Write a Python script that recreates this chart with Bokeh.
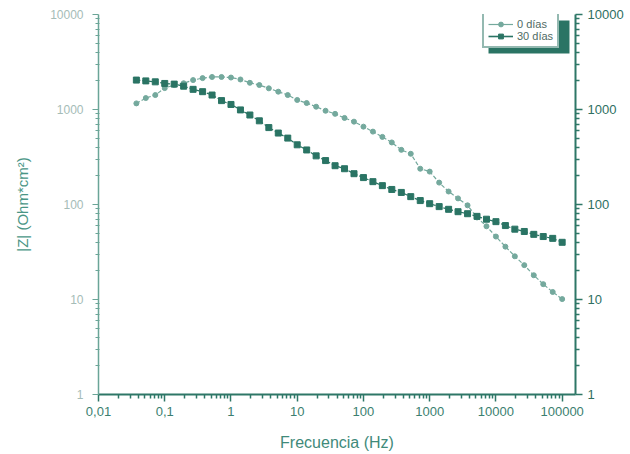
from bokeh.plotting import figure
from bokeh.models import Range1d, LogAxis, FixedTicker, Legend, LegendItem, BoxAnnotation, ColumnDataSource
from bokeh.embed import file_html
from bokeh.resources import INLINE

# ---- data ----
freq = [0.0373, 0.0518, 0.0720, 0.1, 0.139, 0.193, 0.268, 0.373, 0.518, 0.720,
        1.0, 1.39, 1.93, 2.68, 3.73, 5.18, 7.20, 10.0, 13.9, 19.3,
        26.8, 37.3, 51.8, 72.0, 100, 139, 193, 268, 373, 518,
        720, 1000, 1390, 1930, 2680, 3730, 5180, 7200, 10000, 13900,
        19300, 26800, 37300, 51800, 72000, 100000]
z_0dias = [1160, 1320, 1420, 1680, 1810, 1890, 2040, 2140, 2200, 2200,
           2170, 2070, 1910, 1810, 1670, 1540, 1420, 1260, 1170, 1070,
           970, 900, 815, 745, 660, 585, 515, 450, 376, 342,
           238, 222, 170, 137, 116, 98, 73, 59, 46, 36,
           28.5, 23, 18, 14.5, 12, 10.1]
z_30dias = [2040, 2000, 1955, 1880, 1850, 1760, 1630, 1540, 1420, 1240,
            1130, 990, 875, 760, 645, 565, 500, 425, 375, 325,
            290, 256, 238, 211, 192, 174, 158, 144, 134, 121,
            110, 102, 95, 89, 84, 80, 75, 70, 66, 60,
            55, 52, 48.5, 46, 44, 40]
series_names = ["0 días", "30 días"]
x_ticks = [0.01, 0.1, 1, 10, 100, 1000, 10000, 100000]
x_tick_labels = ["0,01", "0,1", "1", "10", "100", "1000", "10000", "100000"]
y_ticks = [1, 10, 100, 1000, 10000]
y_tick_labels = ["1", "10", "100", "1000", "10000"]
x_title = "Frecuencia (Hz)"
y_title = "|Z| (Ohm*cm²)"

# ---- styling ----
C0 = "#74a99d"
C1 = "#2a7464"
AX_DARK = "#2e7767"
FONT = "Liberation Sans"

p = figure(width=630, height=454, x_axis_type="log", y_axis_type="log",
           x_range=Range1d(0.01, 1.59e5), y_range=Range1d(1, 10000),
           output_backend="svg", toolbar_location=None,
           min_border_left=98, min_border_right=55, min_border_top=14, min_border_bottom=60)
p.xgrid.visible = False
p.ygrid.visible = False
p.outline_line_color = None
p.background_fill_color = "white"
p.border_fill_color = "white"

x_minor = [m * 10 ** e for e in range(-2, 6) for m in range(2, 10)]
y_minor = [m * 10 ** e for e in range(0, 4) for m in range(2, 10)]

xa = p.xaxis[0]
xa.ticker = FixedTicker(ticks=x_ticks, minor_ticks=x_minor)
xa.major_label_overrides = {t: l for t, l in zip(x_ticks, x_tick_labels)}
xa.axis_line_color = AX_DARK
xa.axis_line_width = 2
xa.major_tick_line_color = AX_DARK
xa.minor_tick_line_color = AX_DARK
xa.major_tick_line_width = 1.5
xa.minor_tick_line_width = 1.5
xa.major_tick_out = 7
xa.major_tick_in = 0
xa.minor_tick_out = 4
xa.minor_tick_in = 0
xa.major_label_text_color = "#3b7f70"
xa.major_label_text_font = FONT
xa.major_label_text_font_size = "13px"
xa.major_label_standoff = 5
xa.axis_label = x_title
xa.axis_label_text_font = FONT
xa.axis_label_text_font_size = "16px"
xa.axis_label_text_font_style = "normal"
xa.axis_label_text_color = "#3f8a7a"
xa.axis_label_standoff = 15

ya = p.yaxis[0]
ya.ticker = FixedTicker(ticks=y_ticks, minor_ticks=y_minor)
ya.major_label_overrides = {t: l for t, l in zip(y_ticks, y_tick_labels)}
ya.axis_line_color = "#6aa597"
ya.axis_line_width = 1.5
ya.major_tick_line_color = "#6aa597"
ya.minor_tick_line_color = "#6aa597"
ya.major_tick_out = 6
ya.major_tick_in = 0
ya.minor_tick_out = 3
ya.minor_tick_in = 1
ya.major_label_text_color = "#a5bcb7"
ya.major_label_text_font = FONT
ya.major_label_text_font_size = "12px"
ya.major_label_standoff = 9
ya.axis_label = y_title
ya.axis_label_text_font = FONT
ya.axis_label_text_font_size = "15px"
ya.axis_label_text_font_style = "normal"
ya.axis_label_text_color = "#4a9585"
ya.axis_label_standoff = 16

ra = LogAxis(ticker=FixedTicker(ticks=y_ticks, minor_ticks=y_minor))
ra.major_label_overrides = {t: l for t, l in zip(y_ticks, y_tick_labels)}
ra.axis_line_color = AX_DARK
ra.axis_line_width = 2
ra.major_tick_line_color = AX_DARK
ra.minor_tick_line_color = AX_DARK
ra.major_tick_line_width = 1.5
ra.minor_tick_line_width = 1.5
ra.major_tick_out = 7
ra.major_tick_in = 0
ra.minor_tick_out = 4
ra.minor_tick_in = 0
ra.major_label_text_color = "#2e6f62"
ra.major_label_text_font = FONT
ra.major_label_text_font_size = "13px"
ra.major_label_standoff = 5
p.add_layout(ra, "right")

# ---- data glyphs ----
src = ColumnDataSource(dict(f=freq, z0=z_0dias, z30=z_30dias))
l0 = p.line("f", "z0", source=src, color=C0, line_width=1.2, line_dash="4 2")
s0 = p.scatter("f", "z0", source=src, marker="circle", size=5, color=C0)
l1 = p.line("f", "z30", source=src, color=C1, line_width=1.2, line_dash="4 2")
s1 = p.scatter("f", "z30", source=src, marker="square", size=6, color=C1)

# solid-line stand-ins for the legend key (single NaN point, draws nothing in the plot)
key_src = ColumnDataSource(dict(f=[1.0], z=[float("nan")]))
k0 = p.line("f", "z", source=key_src, color=C0, line_width=1.2)
k1 = p.line("f", "z", source=key_src, color=C1, line_width=1.6)

# legend shadow
shadow = BoxAnnotation(left=7730, right=129000, bottom=3885, top=8650,
                       fill_color=C1, fill_alpha=1, line_color=None)
p.add_layout(shadow)

legend = Legend(items=[LegendItem(label=series_names[0], renderers=[k0, s0]),
                       LegendItem(label=series_names[1], renderers=[k1, s1])],
                location=(384, 346), orientation="vertical",
                glyph_width=25, glyph_height=12, label_height=12, label_standoff=4,
                padding=4, spacing=0, margin=0,
                label_text_font=FONT, label_text_font_size="11px", label_text_color="#4f6b65",
                border_line_color=C1, border_line_width=2,
                background_fill_color="white", background_fill_alpha=1)
p.add_layout(legend)

open("out.html", "w").write(file_html(p, INLINE))
